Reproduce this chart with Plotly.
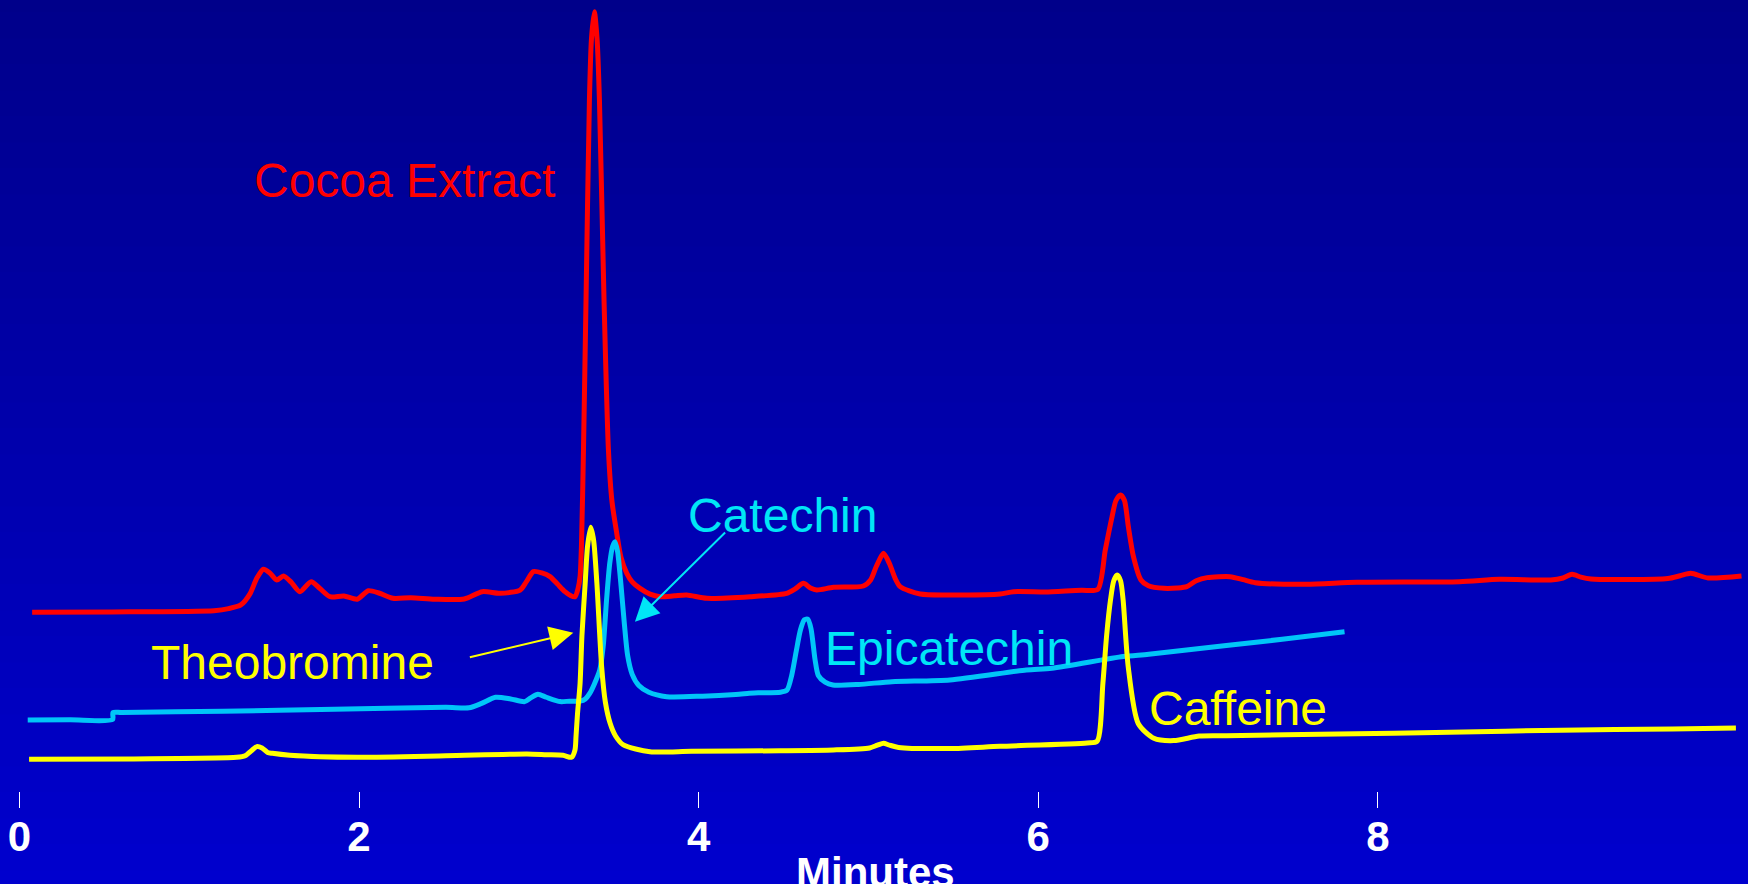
import plotly.graph_objects as go

# ---------------- data (time in minutes, detector signal in arbitrary units) ----------------
cocoa_t = [0.075, 0.542, 1.146, 1.232, 1.304, 1.357, 1.398, 1.437, 1.475, 1.516,
           1.555, 1.599, 1.652, 1.718, 1.770, 1.829, 1.911, 1.989, 2.055, 2.121,
           2.200, 2.305, 2.446, 2.620, 2.726, 2.831, 2.949, 2.985, 3.027, 3.077,
           3.125, 3.169, 3.213, 3.248, 3.272, 3.290, 3.302, 3.310, 3.322, 3.337,
           3.357, 3.369, 3.386, 3.402, 3.416, 3.443, 3.469, 3.490, 3.518, 3.543,
           3.577, 3.609, 3.655, 3.714, 3.773, 3.858, 3.930, 4.049, 4.303, 4.519,
           4.567, 4.617, 4.659, 4.696, 4.794, 4.970, 5.014, 5.047, 5.089, 5.125,
           5.158, 5.187, 5.305, 5.480, 5.775, 5.854, 6.058, 6.255, 6.351, 6.395,
           6.435, 6.458, 6.485, 6.508, 6.531, 6.561, 6.605, 6.649, 6.741, 6.819,
           6.875, 6.931, 6.995, 7.130, 7.207, 7.278, 7.578, 7.877, 8.481, 8.717,
           9.019, 9.091, 9.144, 9.196, 9.255, 9.708, 9.781, 9.843, 9.945, 10.142]
cocoa_v = [160.3, 160.6, 161.8, 163.6, 166.9, 176.6, 190.8, 198.9, 195.6, 189.3,
           192.9, 187.6, 178.8, 187.8, 181.6, 174.3, 175.0, 172.0, 179.7, 177.4,
           172.9, 173.4, 172.1, 172.3, 178.8, 177.3, 180.3, 187.6, 196.8, 195.6,
           192.3, 185.6, 178.8, 175.1, 174.3, 181.6, 192.3, 219.6, 305.9, 440.5,
           619.9, 674.6, 699.1, 674.6, 619.9, 440.5, 305.9, 259.6, 231.2, 209.6,
           195.3, 187.6, 181.8, 176.6, 174.3, 175.1, 175.8, 172.9, 174.3, 177.3,
           181.1, 186.3, 182.1, 180.3, 182.7, 183.9, 189.6, 201.6, 213.2, 203.6,
           190.6, 183.3, 176.7, 175.9, 176.7, 178.8, 178.6, 180.1, 180.9, 216.2,
           246.1, 260.6, 265.6, 260.6, 237.1, 210.2, 189.3, 184.1, 181.8, 182.1,
           183.3, 188.6, 191.4, 192.3, 189.6, 186.9, 185.4, 187.2, 187.8, 189.9,
           189.3, 191.1, 194.4, 191.8, 190.1, 190.6, 193.1, 195.3, 191.1, 192.8]

catechin_t = [0.049, 0.300, 0.549, 0.551, 0.600, 1.199, 1.856, 2.512, 2.647, 2.722, 2.804,
              2.893, 2.975, 3.011, 3.054, 3.103, 3.185, 3.241, 3.303, 3.333, 3.359,
              3.385, 3.418, 3.438, 3.458, 3.477, 3.494, 3.508, 3.523, 3.543, 3.563,
              3.582, 3.609, 3.648, 3.707, 3.812, 4.022, 4.219, 4.298, 4.351, 4.482,
              4.521, 4.548, 4.574, 4.600, 4.623, 4.643, 4.662, 4.686, 4.705, 4.745,
              4.791, 4.942, 5.139, 5.480, 5.930, 6.081, 6.500, 6.651, 7.108, 7.437,
              7.804]
catechin_v = [63.7, 63.9, 64.1, 70.3, 70.4, 71.6, 73.3, 75.1, 74.6, 78.6, 84.1,
              82.6, 80.2, 83.6, 86.8, 84.1, 80.2, 80.6, 80.6, 82.6, 87.6,
              95.6, 108.6, 129.6, 171.6, 204.6, 219.6, 223.6, 214.6, 184.6, 149.6,
              121.6, 104.6, 94.6, 88.6, 84.6, 85.1, 86.6, 87.6, 88.1, 88.6,
              90.6, 103.6, 124.6, 144.6, 153.6, 154.1, 145.6, 117.6, 103.6, 97.6,
              95.1, 95.6, 98.1, 99.6, 108.6, 110.1, 120.6, 122.6, 130.6, 136.1,
              142.9]

standard_t = [0.057, 0.674, 1.279, 1.330, 1.370, 1.398, 1.429, 1.462, 1.490, 1.593,
              1.989, 2.512, 2.989, 3.103, 3.202, 3.251, 3.272, 3.278, 3.287, 3.302,
              3.313, 3.332, 3.346, 3.365, 3.382, 3.401, 3.429, 3.451, 3.479, 3.510,
              3.557, 3.714, 3.957, 4.482, 4.794, 5.007, 5.053, 5.089, 5.125, 5.178,
              5.480, 5.775, 6.288, 6.347, 6.381, 6.403, 6.426, 6.445, 6.465, 6.485,
              6.500, 6.530, 6.589, 6.681, 6.799, 6.948, 7.108, 7.765, 8.422, 9.078,
              9.735, 10.109]
standard_v = [28.4, 28.8, 30.2, 31.6, 36.6, 39.8, 38.6, 34.6, 33.8, 32.1,
              30.2, 31.6, 33.2, 32.6, 32.1, 30.2, 36.8, 48.8, 69.6, 96.6,
              139.6, 186.3, 219.6, 236.6, 224.6, 186.3, 111.6, 79.6, 60.7, 49.6,
              41.3, 35.3, 35.6, 36.1, 36.8, 38.6, 41.1, 42.8, 41.1, 39.1,
              38.1, 40.1, 43.1, 44.6, 96.6, 139.6, 171.6, 188.6, 193.8, 188.6,
              171.6, 111.6, 60.6, 47.3, 45.2, 49.3, 49.6, 51.1, 52.6, 54.6,
              55.6, 56.6]

tick_values = [0, 2, 4, 6, 8]
tick_labels = ["0", "2", "4", "6", "8"]
axis_title = "Minutes"

# label name, x (min), y (signal), colour
labels = [
    ("Cocoa Extract", 2.265, 547.7, "#FF0000"),
    ("Theobromine", 1.611, 115.3, "#FFFF00"),
    ("Catechin", 4.493, 246.9, "#00E6F6"),
    ("Epicatechin", 5.476, 127.9, "#00E6F6"),
    ("Caffeine", 7.176, 74.1, "#FFFF00"),
]
# arrows: tip x, tip y, tail x, tail y, colour
arrows = [
    (3.262, 142.0, 2.644, 119.6, "#FFFF00"),
    (3.625, 151.9, 4.165, 233.2, "#00E6F6"),
]

W, H = 1748, 884
MB = 93
FONT = "Liberation Sans, Arial, sans-serif"

fig = go.Figure()
fig.add_trace(go.Scatter(x=cocoa_t, y=cocoa_v, mode="lines",
                         line=dict(color="#FF0000", width=5, shape="spline", smoothing=0.7),
                         name="Cocoa Extract"))
fig.add_trace(go.Scatter(x=catechin_t, y=catechin_v, mode="lines",
                         line=dict(color="#00C6F8", width=5, shape="spline", smoothing=0.7),
                         name="Catechin / Epicatechin"))
fig.add_trace(go.Scatter(x=standard_t, y=standard_v, mode="lines",
                         line=dict(color="#FFFF00", width=5, shape="spline", smoothing=0.7),
                         name="Theobromine / Caffeine"))

# vertical gradient background
shapes = []
n = 68
plot_h = H - MB
yb = -MB / plot_h
span = 1 - yb
for i in range(n):
    top = 1 - i * span / n
    bot = 1 - (i + 1) * span / n - 0.002
    b = int(round(138 + (206 - 138) * (i + 0.5) / n))
    shapes.append(dict(type="rect", xref="paper", yref="paper", x0=-0.01, x1=1.01,
                       y0=bot, y1=top + 0.001, line=dict(width=0),
                       fillcolor=f"rgb(0,0,{b})", layer="below"))

annotations = []
for name, x, y, col in labels:
    annotations.append(dict(x=x, y=y, xref="x", yref="y", text=name, showarrow=False,
                            xanchor="center", yanchor="middle",
                            font=dict(family=FONT, size=48, color=col)))
for tx, ty, ax, ay, col in arrows:
    annotations.append(dict(x=tx, y=ty, xref="x", yref="y", ax=ax, ay=ay,
                            axref="x", ayref="y", text="", showarrow=True,
                            arrowhead=2, arrowsize=2.4, arrowwidth=2, arrowcolor=col))
# x-axis title (placed below the tick labels, partly cut by the page edge as in the original)
annotations.append(dict(x=0.501, y=-(872.5 - plot_h) / plot_h, xref="paper", yref="paper",
                        text=axis_title, showarrow=False, xanchor="center", yanchor="middle",
                        font=dict(family=FONT, size=42, color="white", weight="bold")))

fig.update_layout(
    width=W, height=H,
    margin=dict(l=0, r=0, t=0, b=MB, autoexpand=False),
    paper_bgcolor="rgb(0,0,206)",
    plot_bgcolor="rgba(0,0,0,0)",
    showlegend=False,
    shapes=shapes,
    annotations=annotations,
    xaxis=dict(range=[-0.11425, 10.1802], tickvals=tick_values, ticktext=tick_labels,
               ticks="outside", ticklen=16, tickwidth=1, tickcolor="white",
               ticklabelstandoff=-7, automargin=False,
               showgrid=False, zeroline=False, showline=False,
               tickfont=dict(family=FONT, size=42, color="white", weight="bold")),
    yaxis=dict(range=[0, 709.6], visible=False, fixedrange=True, automargin=False),
)

fig.write_html("out.html", config={"responsive": False, "displayModeBar": False},
               post_script="document.body.style.margin='0';document.body.style.overflow='hidden';")
